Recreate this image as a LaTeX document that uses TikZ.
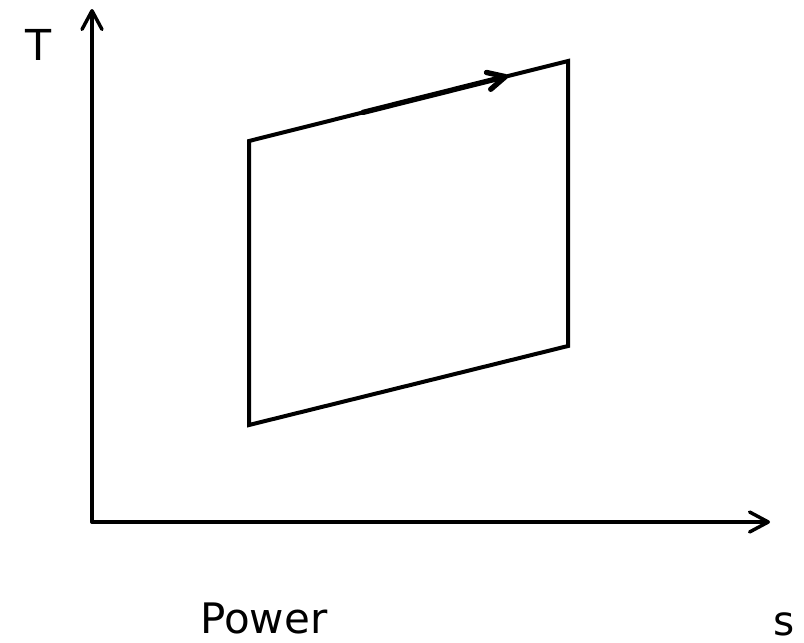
\documentclass[tikz,border=0pt]{standalone}
\usepackage{fontspec}
\setmainfont{DejaVu Sans}
\usetikzlibrary{arrows.meta}

\begin{document}
\begin{tikzpicture}[x=0.75pt, y=-0.75pt, >={Straight Barb[length=14pt, width=15pt, round]}]
    \tikzset{
        axis/.style={line width=2.6pt, line cap=round},
        cycleline/.style={line width=3pt, line join=miter},
        flow/.style={line width=4pt, line cap=round,
            -{Straight Barb[length=13pt, width=13pt, round]}},
        lbl/.style={anchor=base west, inner sep=0pt}
    }
    \useasboundingbox (0,0) rectangle (804,643);

    % 軸
    \coordinate (O) at (92,522);
    \coordinate (Ttip) at (92,9);
    \coordinate (Stip) at (770,522);
    \draw[axis, ->] (O) -- (Ttip);
    \draw[axis, ->] (O) -- (Stip);

    % ラベル
    \node[lbl, font=\fontsize{32}{36}\selectfont] (Tlabel) at (25,60) {T};
    \node[lbl, font=\fontsize{31.5}{35}\selectfont] (Powerlabel) at (200,633) {Power};
    \node[lbl, font=\fontsize{30.5}{34}\selectfont] (Slabel) at (773,635) {s};

    % サイクル (平行四辺形)
    \coordinate (A) at (249,141);
    \coordinate (B) at (568,61);
    \coordinate (C) at (568,346);
    \coordinate (D) at (249,425);
    \draw[cycleline] (A) -- (B) -- (C) -- (D) -- cycle;

    % 上辺の向きを示す矢印
    \coordinate (flowStart) at (363,112.4);
    \coordinate (flowEnd) at (508,76);
    \draw[flow] (flowStart) -- (flowEnd);

\end{tikzpicture}
\end{document}
